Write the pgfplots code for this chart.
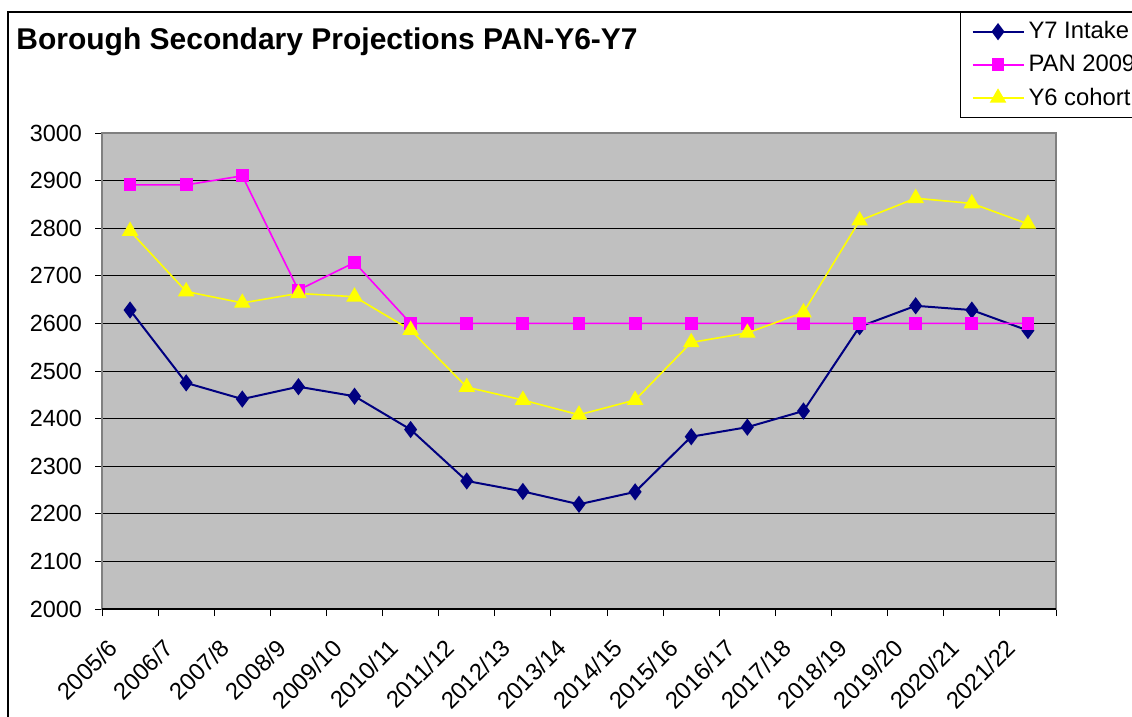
\documentclass[border=0pt]{standalone}
\usepackage{pgfplots}
\pgfplotsset{compat=1.18}
\usepackage{fontspec}
\setmainfont{Liberation Sans}
\definecolor{plotbg}{HTML}{C0C0C0}
\definecolor{navyc}{HTML}{000080}
\definecolor{pmag}{HTML}{FF00FF}
\definecolor{pyel}{HTML}{FFFF00}
\definecolor{bordergray}{HTML}{808080}
\begin{document}
\begin{tikzpicture}
\path[use as bounding box] (0,0) rectangle (566pt,-358.5pt);
\draw[line width=1pt] (4pt,-400pt) -- (4pt,-6pt) -- (600pt,-6pt);
\node[anchor=base west, font=\fontsize{15}{17}\selectfont\bfseries, inner sep=0pt] at (8pt,-25pt) {Borough Secondary Projections PAN-Y6-Y7};
\begin{axis}[
  at={(51pt,-304.5pt)}, anchor=south west,
  scale only axis, width=477pt, height=238pt,
  xmin=-0.5, xmax=16.5, ymin=2000, ymax=3000,
  axis background/.style={fill=plotbg},
  ytick={2000,2100,...,3000},
  xtick={0,...,16},
  xticklabels={2005/6,2006/7,2007/8,2008/9,2009/10,2010/11,2011/12,2012/13,2013/14,2014/15,2015/16,2016/17,2017/18,2018/19,2019/20,2020/21,2021/22},
  minor xtick={-0.5,0.5,...,16.5},
  major x tick style={draw=none},
  tick pos=left,
  tick align=outside,
  major tick length=3.5pt, minor tick length=3.5pt,
  tick style={black, line width=0.5pt},
  ymajorgrids,
  major y grid style={black, line width=0.5pt},
  axis line style={draw=bordergray, line width=1pt},
  yticklabel style={font=\fontsize{11.7}{13}\selectfont, xshift=-3pt},
  xticklabel style={xshift=-6pt, yshift=-11.5pt, rotate=45, anchor=east, font=\fontsize{11.9}{13}\selectfont},
  /pgf/number format/assume math mode=true,
  /pgf/number format/1000 sep={},
  legend style={at={(0.8994,1.2542)}, anchor=north west, draw=black, line width=0.5pt, fill=white,
    font=\fontsize{11.9}{13}\selectfont, row sep=2.6pt, inner xsep=5.5pt, inner ysep=2.5pt, cells={anchor=west}},
  legend image code/.code={\draw[mark repeat=2,mark phase=2] plot coordinates {(0pt,0pt)(12.75pt,0pt)(25.5pt,0pt)};},
]
\addplot[color=navyc, line width=1pt, mark=diamond*, mark size=3.5pt, mark options={fill=navyc}] coordinates {
(0,2628)(1,2475)(2,2441)(3,2467)(4,2447)(5,2377)(6,2269)(7,2247)(8,2220)(9,2246)(10,2362)(11,2382)(12,2416)(13,2593)(14,2637)(15,2628)(16,2585)};
\addlegendentry{Y7 Intake}
\addplot[color=pmag, line width=0.8pt, mark=square*, mark size=2.8pt, mark options={fill=pmag}] coordinates {
(0,2891)(1,2891)(2,2910)(3,2670)(4,2728)(5,2600)(6,2600)(7,2600)(8,2600)(9,2600)(10,2600)(11,2600)(12,2600)(13,2600)(14,2600)(15,2600)(16,2600)};
\addlegendentry{PAN 2009}
\addplot[color=pyel, line width=0.8pt, mark=triangle*, mark size=4pt, mark options={fill=pyel}] coordinates {
(0,2794)(1,2667)(2,2643)(3,2663)(4,2656)(5,2586)(6,2466)(7,2439)(8,2408)(9,2439)(10,2560)(11,2580)(12,2623)(13,2816)(14,2863)(15,2852)(16,2809)};
\addlegendentry{Y6 cohort}
\draw[black, line width=0.6pt] (axis cs:-0.5,2000) -- (axis cs:16.5,2000);
\end{axis}
\end{tikzpicture}
\end{document}
